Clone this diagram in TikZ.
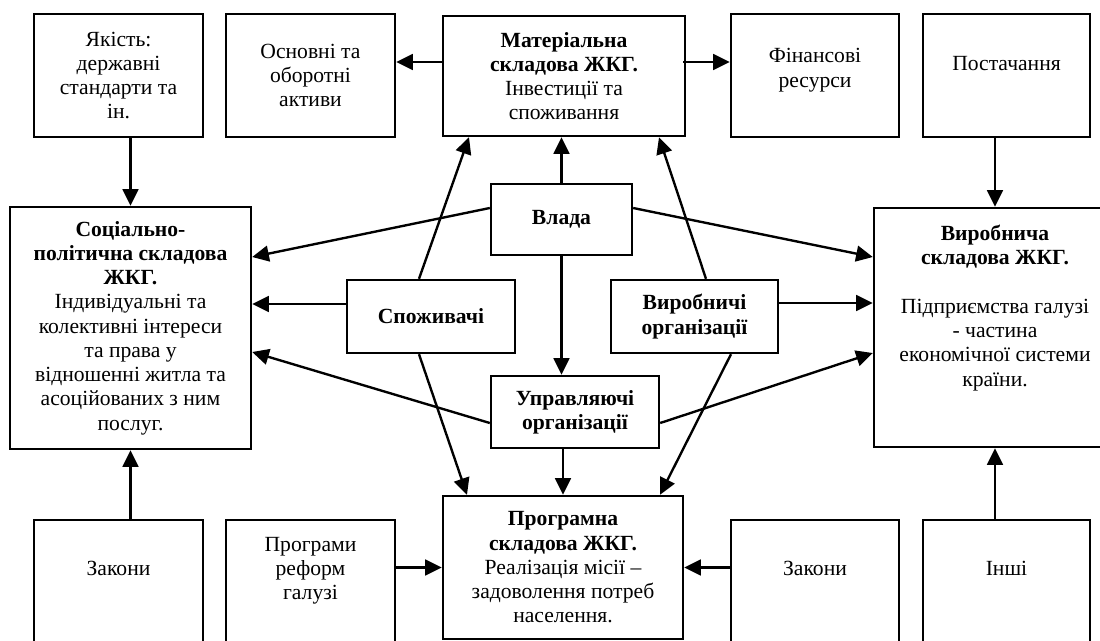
\documentclass[tikz,border=0pt]{standalone}
\usepackage{fontspec}
\setmainfont{Liberation Serif}
\usepackage{tikz}
\usetikzlibrary{arrows.meta,                % arrow tips
                calc}                       % shifted anchors

\newcommand{\pu}{0.02cm}

\begin{document}
\begin{tikzpicture}[x=0.02cm, y=-0.02cm,
        box/.style={draw, line width=1.35pt, align=center, inner sep=2pt,
                    font=\fontsize{12.3}{13.8}\selectfont},
        arr/.style={-{Triangle[length=9.5pt, width=9pt]}, line width=1.35pt}]
        \useasboundingbox (0,0) rectangle (1100,640);
        \clip (0,0) rectangle (1100,640);

        % top row
        \node[box, minimum width=169*\pu, minimum height=123*\pu] (jakist) at (118.5,75.5) {Якість:\\державні\\стандарти та\\ін.};
        \node[box, minimum width=169*\pu, minimum height=123*\pu] (osnovni) at (310.5,75.5) {Основні та\\оборотні\\активи};
        \node[box, minimum width=242*\pu, minimum height=120*\pu] (mater) at (564,76) {\textbf{Матеріальна}\\\textbf{складова ЖКГ.}\\Інвестиції та\\споживання};
        \node[box, minimum width=168*\pu, minimum height=123*\pu] (finansy) at (815,75.5) {Фінансові\\ресурси\\[-5pt]\mbox{}};
        \node[box, minimum width=167*\pu, minimum height=123*\pu] (postach) at (1006.5,75.5) {Постачання\\\mbox{}};

        % middle
        \node[box, minimum width=241*\pu, minimum height=242*\pu] (soc) at (130.5,328) {\textbf{Соціально-}\\\textbf{політична складова}\\\textbf{ЖКГ.}\\Індивідуальні та\\колективні інтереси\\та права у\\відношенні житла  та\\асоційованих з ним\\послуг.};
        \node[box, minimum width=141*\pu, minimum height=71*\pu] (vlada) at (561.5,219.5) {\textbf{Влада}};
        \node[box, minimum width=168*\pu, minimum height=73*\pu] (spozh) at (431,316.5) {\textbf{Споживачі}};
        \node[box, minimum width=167*\pu, minimum height=73*\pu] (vyrorg) at (694.5,316.5) {\textbf{Виробничі}\\\textbf{організації}};
        \node[box, minimum width=168*\pu, minimum height=72*\pu] (uprav) at (575,412) {\textbf{Управляючі}\\\textbf{організації}};
        \node[box, minimum width=242*\pu, minimum height=239*\pu] (vyrob) at (995,327.5) {\textbf{Виробнича}\\\textbf{складова ЖКГ.}\\[13.8pt]Підприємства галузі\\- частина\\економічної системи\\країни.\\[11pt]\mbox{}};

        % bottom row
        \node[box, minimum width=240*\pu, minimum height=143*\pu] (prog) at (563,567.5) {\textbf{Програмна}\\\textbf{складова ЖКГ.}\\Реалізація місії –\\задоволення потреб\\населення.};
        \node[box, minimum width=169*\pu, minimum height=200*\pu] (zakl) at (118.5,620) {Закони\\[45pt]\mbox{}};
        \node[box, minimum width=169*\pu, minimum height=200*\pu] (program) at (310.5,620) {Програми\\реформ\\галузі\\[45pt]\mbox{}};
        \node[box, minimum width=168*\pu, minimum height=200*\pu] (zakr) at (815,620) {Закони\\[45pt]\mbox{}};
        \node[box, minimum width=167*\pu, minimum height=200*\pu] (inshi) at (1006.5,620) {Інші\\[45pt]\mbox{}};

        % connectors
        \draw[arr] ($(mater.west)+(0,-14)$) -- ($(osnovni.east)+(0,-13.5)$);
        \draw[arr] ($(mater.east)+(-3,-14)$) -- ($(finansy.west)+(0,-13.5)$);
        \draw[arr] (jakist.south -| soc.north) -- (soc.north);
        \draw[arr] (zakl.north -| soc.south) -- (soc.south);
        \draw[arr] (postach.south -| vyrob.north) -- (vyrob.north);
        \draw[arr] (inshi.north -| vyrob.south) -- (vyrob.south);
        \draw[arr] ($(vlada.west)+(0,-11.5)$) -- ($(soc.east)+(0,-71)$);
        \draw[arr] ($(vlada.east)+(0,-11.5)$) -- ($(vyrob.west)+(0,-70.5)$);
        \draw[arr] (vlada.north) -- (vlada.north |- mater.south);
        \draw[arr] (vlada.south) -- (vlada.south |- uprav.north);
        \draw[arr] (uprav.south -| prog.north) -- (prog.north);
        \draw[arr] ($(spozh.west)+(0,-12.5)$) -- ($(soc.east)+(0,-24)$);
        \draw[arr] ($(spozh.north)+(-12,0)$) -- ($(mater.south)+(-95,0)$);
        \draw[arr] ($(vyrorg.north)+(11.5,0)$) -- ($(mater.south)+(95,0)$);
        \draw[arr] ($(vyrorg.east)+(0,-13.5)$) -- ($(vyrob.west)+(0,-24.5)$);
        \draw[arr] ($(spozh.south)+(-12,0)$) -- ($(prog.north)+(-96,0)$);
        \draw[arr] ($(vyrorg.south)+(36.5,0)$) -- ($(prog.north)+(97,0)$);
        \draw[arr] ($(uprav.west)+(0,11)$) -- ($(soc.east)+(0,24)$);
        \draw[arr] ($(uprav.east)+(0,11)$) -- ($(vyrob.west)+(0,25.5)$);
        \draw[arr] (program.east |- prog.west) -- (prog.west);
        \draw[arr] (zakr.west |- prog.east) -- (prog.east);
\end{tikzpicture}
\end{document}
